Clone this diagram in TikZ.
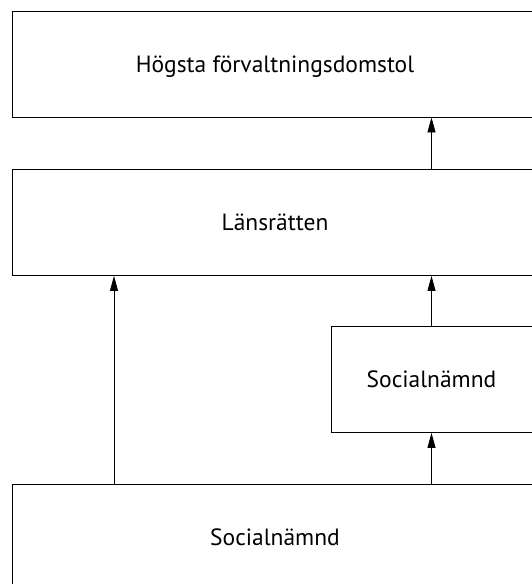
\documentclass[tikz,border=0pt]{standalone}
\usepackage{fontspec}
\setmainfont{PT Sans}
\usetikzlibrary{arrows.meta}

\begin{document}
\begin{tikzpicture}[x=1pt, y=-1pt, font=\fontsize{23.5}{28}\selectfont, line width=0.8pt,
  box/.style={draw, rectangle, inner sep=0pt, minimum height=106pt,
    text height=1.6em, text depth=0pt},
  arr/.style={-{Triangle[length=15pt, width=8pt]}}]
  \useasboundingbox (0,0) rectangle (531,584);
  % courts and boards
  \node[box, minimum width=526pt] (hfd) at (275,64) {Högsta förvaltningsdomstol};
  \node[box, minimum width=526pt] (lr) at (275,222.5) {Länsrätten};
  \node[box, minimum width=201pt] (sn1) at (431.5,379.5) {Socialnämnd};
  \node[box, minimum width=526pt] (sn2) at (275,537.5) {Socialnämnd};
  \coordinate (lft) at (114,0);
  % appeals
  \draw[arr] (lr.north -| sn1) -- (hfd.south -| sn1);
  \draw[arr] (sn1.north) -- (sn1 |- lr.south);
  \draw[arr] (sn2.north -| sn1) -- (sn1.south);
  \draw[arr] (sn2.north -| lft) -- (lr.south -| lft);
\end{tikzpicture}
\end{document}
